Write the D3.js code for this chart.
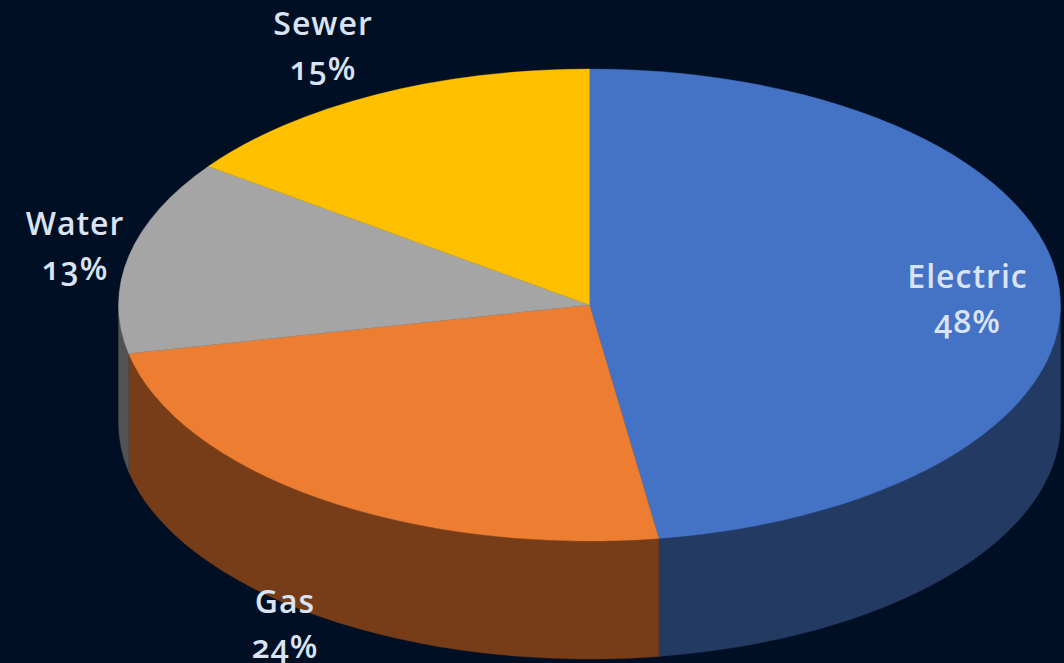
<!DOCTYPE html>
<html><head><meta charset="utf-8">
<style>html,body{margin:0;padding:0;background:#000f24;overflow:hidden}svg{display:block}
text{font-feature-settings:"onum" 1;font-variant-numeric:oldstyle-nums}</style>
<script src="https://cdn.jsdelivr.net/npm/d3@7"></script></head>
<body><svg id="c" width="1064" height="663"></svg>
<script>
const categories = ["Electric","Gas","Water","Sewer"];
const shares = [47.65,24.05,13.3,15.0];
const topColors = ["#4472c4","#ed7d31","#a5a5a5","#ffc000"];
const sideColors = ["#233a63","#773d18","#525252","#806000"];
const labelPos = [[967.5,288],[285,613],[75,235],[323,35]];

const W=1064,H=663,cx=589.5,cy=305,rx=471,ry=236,depth=118;
const svg=d3.select("#c");
svg.append("rect").attr("width",W).attr("height",H).attr("fill","#000f24");
const pie=d3.pie().sort(null).value(d=>d)(shares);
const px=a=>cx+rx*Math.sin(a), py=a=>cy-ry*Math.cos(a);

pie.forEach((s,i)=>{
  const a0=Math.max(s.startAngle,Math.PI/2),a1=Math.min(s.endAngle,3*Math.PI/2);
  if(a1<=a0) return;
  const arc=(from,to,dy)=>{
    const sweep=to>from?1:0;
    return `A${rx},${ry} 0 ${Math.abs(to-from)>Math.PI?1:0} ${sweep} ${px(to)},${py(to)+dy}`;
  };
  const d=`M${px(a0)},${py(a0)}`+arc(a0,a1,0)+`L${px(a1)},${py(a1)+depth}`+arc(a1,a0,depth)+"Z";
  svg.append("path").attr("d",d).attr("fill",sideColors[i])
    .attr("stroke",sideColors[i]).attr("stroke-width",0.4);
});
const g=svg.append("g").attr("transform",`translate(${cx},${cy}) scale(1,${ry/rx})`);
g.selectAll("path").data(pie).join("path")
  .attr("d",d3.arc().innerRadius(0).outerRadius(rx))
  .attr("fill",(d,i)=>topColors[i])
  .attr("stroke",(d,i)=>topColors[i]).attr("stroke-width",0.5);
const t=svg.selectAll("text").data(categories).join("text")
  .attr("text-anchor","middle").attr("fill","#dae3f3")
  .attr("font-family","'Open Sans', Lato, sans-serif").attr("font-weight",600)
  .attr("font-size",32).attr("letter-spacing",1);
t.append("tspan").attr("x",(d,i)=>labelPos[i][0]).attr("y",(d,i)=>labelPos[i][1]).text(d=>d);
t.append("tspan").attr("x",(d,i)=>labelPos[i][0]).attr("y",(d,i)=>labelPos[i][1]+45)
  .text((d,i)=>Math.round(shares[i])+"%");
</script></body></html>
